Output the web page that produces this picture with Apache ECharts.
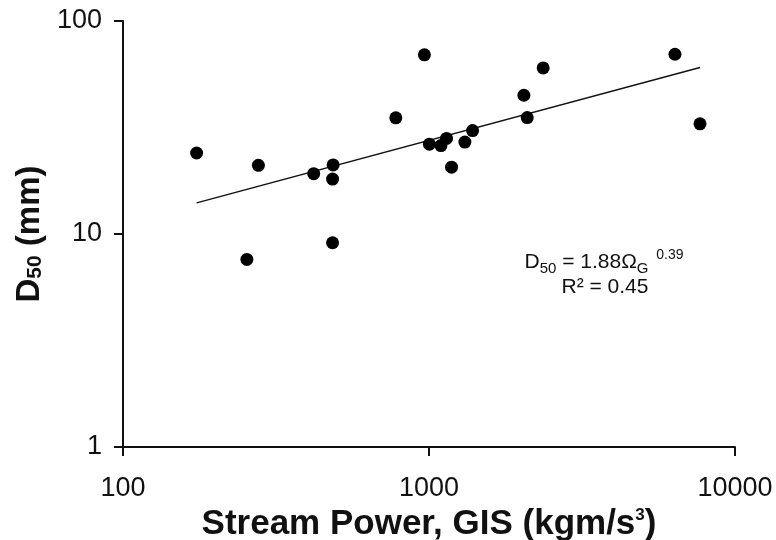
<!DOCTYPE html>
<html>
<head>
<meta charset="utf-8">
<script src="https://cdn.jsdelivr.net/npm/echarts@6/dist/echarts.min.js"></script>
<style>
html, body { margin: 0; padding: 0; background: #fff; }
#chart { width: 776px; height: 540px; }
</style>
</head>
<body>
<div id="chart"></div>
<script>
// stream power (x) vs D50 (y)
const streamPower = [174, 277, 254, 420, 486, 484, 484, 779, 966, 1003, 1094, 1141, 1185, 1310, 1388, 2042, 2094, 2361, 6365, 7684];
const d50 = [24.0, 21.0, 7.6, 19.2, 21.1, 18.1, 9.1, 35.1, 69.4, 26.4, 26.0, 28.1, 20.6, 27.0, 30.6, 44.8, 35.2, 60.2, 69.8, 32.9];
// fitted line end points
const fitX = [174, 7684];
const fitY = [14.0, 60.5];

const font = '"Liberation Sans", Arial, sans-serif';
const ink = '#111';

let chart = echarts.init(document.getElementById('chart'), null, { renderer: 'canvas' });

const points = streamPower.map((x, i) => [x, d50[i]]);
const fit = fitX.map((x, i) => [x, fitY[i]]);

const opt = {
	animation: false,
	backgroundColor: '#fff',
	grid: { left: 123, right: 41, top: 21, bottom: 93, containLabel: false, outerBoundsMode: 'none' },
	xAxis: {
		type: 'log',
		logBase: 10,
		min: 100,
		max: 10000,
		name: '{b|Stream Power, GIS (kgm/s}{sup|3}{b|)}',
		nameLocation: 'middle',
		nameGap: 57,
		nameTextStyle: {
			rich: {
				b: { fontFamily: font, fontWeight: 'bold', fontSize: 35, color: ink },
				sup: { fontFamily: font, fontWeight: 'bold', fontSize: 17, color: ink, verticalAlign: 'top', lineHeight: 34 }
			}
		},
		axisLine: { lineStyle: { color: ink, width: 2 } },
		axisTick: { show: true, length: 9, lineStyle: { color: ink, width: 2 } },
		minorTick: { show: false },
		splitLine: { show: false },
		axisLabel: {
			fontFamily: font,
			fontSize: 27,
			color: ink,
			margin: 28,
			formatter: v => String(Math.round(v))
		}
	},
	yAxis: {
		type: 'log',
		logBase: 10,
		min: 1,
		max: 100,
		name: '{b|D}{sub|50}{b| (mm)}',
		nameLocation: 'middle',
		nameGap: 76,
		nameRotate: 90,
		nameTextStyle: {
			rich: {
				b: { fontFamily: font, fontWeight: 'bold', fontSize: 33, color: ink },
				sub: { fontFamily: font, fontWeight: 'bold', fontSize: 21, color: ink, verticalAlign: 'bottom', lineHeight: 16 }
			}
		},
		axisLine: { lineStyle: { color: ink, width: 2 } },
		axisTick: { show: true, length: 9, lineStyle: { color: ink, width: 2 } },
		splitLine: { show: false },
		axisLabel: {
			fontFamily: font,
			fontSize: 27,
			color: ink,
			margin: 21,
			formatter: v => String(Math.round(v))
		}
	},
	graphic: [
		{
			type: 'text',
			style: {
				x: 604,
				y: 262,
				align: 'center',
				verticalAlign: 'middle',
				text: '{a|D}{sub|50}{a| = 1.88Ω}{sub|G}{sup|  0.39}',
				rich: {
					a: { fontFamily: font, fontSize: 21, fill: ink, lineHeight: 28 },
					sub: { fontFamily: font, fontSize: 15, fill: ink, verticalAlign: 'bottom', lineHeight: 16 },
					sup: { fontFamily: font, fontSize: 14, fill: ink, verticalAlign: 'top', lineHeight: 26 }
				}
			}
		},
		{
			type: 'text',
			style: {
				x: 605,
				y: 287,
				align: 'center',
				verticalAlign: 'middle',
				text: 'R² = 0.45',
				fontFamily: font,
				fontSize: 21,
				fill: ink
			}
		}
	],
	series: [
		{
			type: 'line',
			data: fit,
			showSymbol: false,
			symbol: 'none',
			lineStyle: { color: ink, width: 1.5 },
			z: 1
		},
		{
			type: 'scatter',
			data: points,
			symbol: 'circle',
			symbolSize: 13,
			itemStyle: { color: '#000', opacity: 1 },
			z: 2
		}
	]
};

chart.setOption(opt);
</script>
</body>
</html>
